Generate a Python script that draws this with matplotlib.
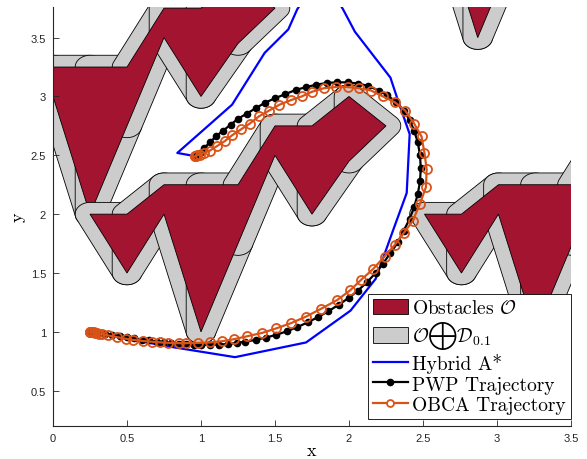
import numpy as np
import matplotlib
matplotlib.use("Agg")
import matplotlib.pyplot as plt
from matplotlib.patches import Polygon, Patch
from matplotlib.lines import Line2D
from matplotlib.font_manager import FontProperties

plt.rcParams['mathtext.fontset'] = 'cm'

# obstacle template, cut into vertical strips of width 0.25
strip_x = [0.25, 0.5, 0.75, 1.0, 1.25, 1.5, 1.75, 2.0, 2.25]
strip_top = [2.0, 2.0, 2.25, 2.25, 2.25, 2.75, 2.75, 3.0, 2.75]
strip_bot = [2.0, 1.5, 2.0, 1.0, 1.75, 2.5, 2.0, 2.45, 2.75]
# copies of the template, drawn in this order
obstacle_shifts = [(-0.75, 1.0), (0.0, 0.0), (2.26, 0.0), (1.87, 2.5)]
safety_radius = 0.1

hybrid_x = [0.25, 0.5, 0.81, 1.23, 1.71, 2.01, 2.18, 2.30, 2.39, 2.41, 2.33, 2.28,
            2.04, 1.96, 1.81, 1.65, 1.59, 1.43, 1.21, 0.84, 0.95]
hybrid_y = [1.0, 0.94, 0.87, 0.785, 0.91, 1.18, 1.45, 1.87, 2.18, 2.68, 2.97, 3.16,
            3.55, 3.74, 4.05, 3.74, 3.57, 3.37, 2.93, 2.52, 2.495]

pwp_x = [0.25, 0.26, 0.28, 0.31, 0.35, 0.40, 0.45, 0.50, 0.55, 0.60, 0.65, 0.70,
         0.75, 0.80, 0.85, 0.90, 0.95, 1.00, 1.06, 1.12, 1.18, 1.24, 1.30, 1.37,
         1.44, 1.51, 1.58, 1.65, 1.72, 1.79, 1.86, 1.93, 2.00, 2.06, 2.12, 2.18,
         2.23, 2.28, 2.33, 2.37, 2.41, 2.44, 2.465, 2.48, 2.485, 2.48, 2.465, 2.44,
         2.41, 2.37, 2.32, 2.26, 2.20, 2.13, 2.06, 1.99, 1.92, 1.85, 1.78, 1.71,
         1.64, 1.57, 1.50, 1.43, 1.37, 1.31, 1.25, 1.20, 1.15, 1.10, 1.06, 1.02,
         0.99, 0.97, 0.96, 0.955]
pwp_y = [1.0, 1.0, 0.998, 0.993, 0.985, 0.975, 0.965, 0.955, 0.945, 0.935, 0.927, 0.918,
         0.912, 0.905, 0.90, 0.895, 0.892, 0.89, 0.89, 0.892, 0.897, 0.905, 0.917, 0.932,
         0.952, 0.975, 1.005, 1.04, 1.08, 1.125, 1.175, 1.23, 1.29, 1.35, 1.42, 1.50,
         1.58, 1.67, 1.76, 1.86, 1.96, 2.06, 2.17, 2.28, 2.39, 2.50, 2.61, 2.71,
         2.80, 2.88, 2.95, 3.01, 3.05, 3.09, 3.11, 3.12, 3.12, 3.115, 3.10, 3.08,
         3.055, 3.02, 2.985, 2.945, 2.90, 2.855, 2.81, 2.76, 2.71, 2.66, 2.61, 2.56,
         2.52, 2.50, 2.49, 2.485]

obca_x = [0.250, 0.251, 0.253, 0.256, 0.260, 0.266, 0.274, 0.284, 0.296, 0.310, 0.33,
          0.37, 0.43, 0.49, 0.54, 0.61, 0.67, 0.72, 0.78, 0.85, 0.90, 0.98, 1.06,
          1.14, 1.22, 1.31, 1.41, 1.51, 1.61, 1.71, 1.81, 1.92, 2.01, 2.08, 2.16,
          2.24, 2.31, 2.37, 2.43, 2.48, 2.52, 2.525, 2.51, 2.49, 2.44, 2.38, 2.31,
          2.23, 2.15, 2.07, 1.99, 1.91, 1.83, 1.75, 1.68, 1.61, 1.53, 1.46, 1.39,
          1.33, 1.27, 1.21, 1.16, 1.11, 1.06, 1.02, 0.99, 0.975, 0.965, 0.96, 0.958]
obca_y = [1.000, 1.000, 0.999, 0.999, 0.998, 0.997, 0.995, 0.993, 0.990, 0.986, 0.981,
          0.970, 0.956, 0.942, 0.932, 0.922, 0.916, 0.911, 0.907, 0.904, 0.904, 0.906, 0.910,
          0.920, 0.937, 0.962, 0.99, 1.03, 1.075, 1.13, 1.195, 1.27, 1.355, 1.44, 1.53,
          1.64, 1.74, 1.84, 1.94, 2.09, 2.23, 2.38, 2.52, 2.66, 2.77, 2.88, 2.95,
          3.00, 3.05, 3.07, 3.08, 3.08, 3.07, 3.04, 3.00, 2.97, 2.93, 2.88, 2.83,
          2.77, 2.72, 2.67, 2.62, 2.58, 2.54, 2.52, 2.505, 2.50, 2.495, 2.49, 2.49]

red = '#A2142F'
gray = '#CCCCCC'
orange = '#D95319'
dark = '#262626'


def hull(pts):
    pts = sorted(set(map(tuple, np.round(pts, 9))))
    def cross(o, a, b):
        return (a[0] - o[0]) * (b[1] - o[1]) - (a[1] - o[1]) * (b[0] - o[0])
    lower, upper = [], []
    for p in pts:
        while len(lower) >= 2 and cross(lower[-2], lower[-1], p) <= 0:
            lower.pop()
        lower.append(p)
    for p in reversed(pts):
        while len(upper) >= 2 and cross(upper[-2], upper[-1], p) <= 0:
            upper.pop()
        upper.append(p)
    return np.array(lower[:-1] + upper[:-1])


def inflate(piece, r, n=72):
    t = np.linspace(0, 2 * np.pi, n, endpoint=False)
    circ = np.column_stack([np.cos(t), np.sin(t)]) * r
    cloud = (np.asarray(piece)[:, None, :] + circ[None]).reshape(-1, 2)
    return hull(cloud)


fig = plt.figure(figsize=(5.87, 4.6), dpi=100)
ax = fig.add_axes([0.0903, 0.0717, 0.8824, 0.9109])

for dx, dy in obstacle_shifts:
    xs = np.array(strip_x) + dx
    top = np.array(strip_top) + dy
    bot = np.array(strip_bot) + dy
    for i in range(len(xs) - 1):
        piece = [(xs[i], bot[i]), (xs[i + 1], bot[i + 1]),
                 (xs[i + 1], top[i + 1]), (xs[i], top[i])]
        ax.add_patch(Polygon(inflate(piece, safety_radius), closed=True,
                             fc=gray, ec='k', lw=0.6))
    outline = list(zip(xs, top)) + list(zip(xs[::-1], bot[::-1]))
    ax.add_patch(Polygon(outline, closed=True, fc=red, ec='k', lw=0.6))

ax.plot(hybrid_x, hybrid_y, color='b', lw=1.6, zorder=3)
ax.plot(pwp_x, pwp_y, color='k', lw=1.6, marker='o', ms=4.5, mfc='k', mec='k', zorder=4)
ax.plot(obca_x, obca_y, color=orange, lw=1.6, marker='o', ms=6.5, mfc='none',
        mec=orange, mew=1.3, zorder=5)

ax.set_xlim(0, 3.5)
ax.set_ylim(0.2, 3.76)
xt = np.arange(0, 3.51, 0.5)
yt = np.arange(0.5, 3.51, 0.5)
tick_font = FontProperties(family='Liberation Sans', size=8)
ax.set_xticks(xt)
ax.set_xticklabels(['%g' % v for v in xt], fontproperties=tick_font, color=dark)
ax.set_yticks(yt)
ax.set_yticklabels(['%g' % v for v in yt], fontproperties=tick_font, color=dark)
ax.tick_params(direction='in', length=4, width=0.6, colors=dark, pad=5)
for side in ['top', 'right']:
    ax.spines[side].set_visible(False)
for side in ['left', 'bottom']:
    ax.spines[side].set_color(dark)
    ax.spines[side].set_linewidth(0.8)

label_font = FontProperties(family='cmr10', size=13)
ax.set_xlabel('x', fontproperties=label_font, labelpad=0)
ax.set_ylabel('y', fontproperties=label_font, labelpad=4)

handles = [
    Patch(fc=red, ec='k', lw=0.6),
    Patch(fc=gray, ec='k', lw=0.6),
    Line2D([], [], color='b', lw=1.6),
    Line2D([], [], color='k', lw=1.6, marker='o', ms=4.5),
    Line2D([], [], color=orange, lw=1.6, marker='o', ms=5, mfc='white', mec=orange, mew=1.3),
]
labels = [r'Obstacles $\mathcal{O}$',
          r'$\mathcal{O} \bigoplus \mathcal{D}_{0.1}$',
          'Hybrid A*', 'PWP Trajectory', 'OBCA Trajectory']
leg = ax.legend(handles, labels, loc='lower right', bbox_to_anchor=(1.0, 0.0167),
                borderaxespad=0, prop=FontProperties(family='cmr10', size=14),
                fancybox=False, framealpha=1, edgecolor='k', handlelength=1.8,
                handleheight=0.85, handletextpad=0.25, labelspacing=0.1,
                borderpad=0.25, markerscale=1)
leg.get_frame().set_linewidth(0.6)
leg.set_zorder(10)

fig.savefig('out.png', dpi=100)
